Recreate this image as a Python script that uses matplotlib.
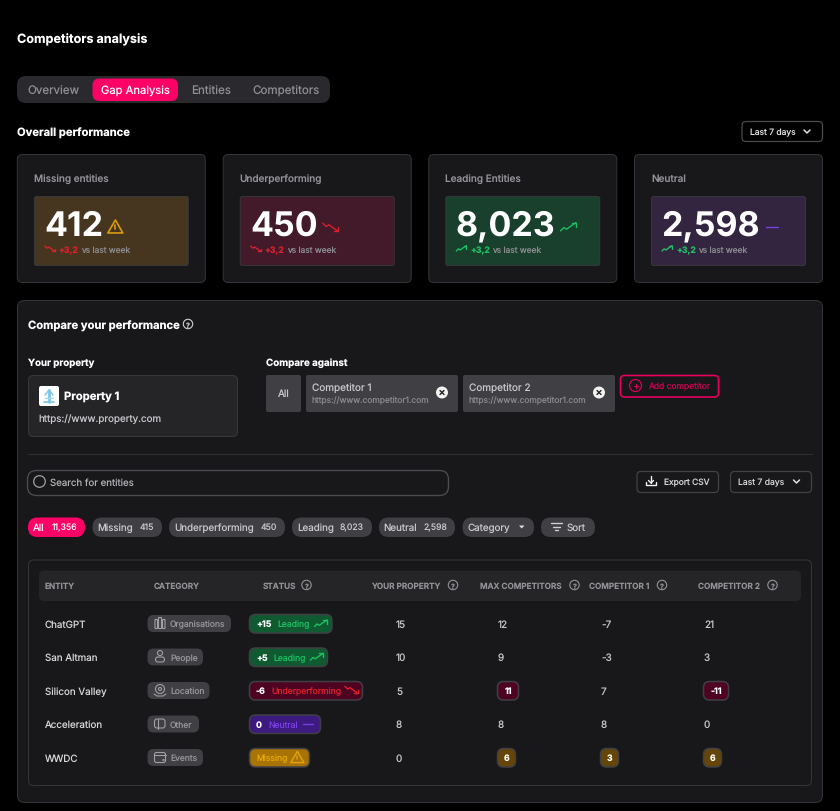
import math
import matplotlib
matplotlib.use("Agg")
import matplotlib.pyplot as plt
from matplotlib.patches import FancyBboxPatch, Circle, Polygon
from matplotlib.font_manager import FontProperties

FAMILY = ['Inter', 'DejaVu Sans']
plt.rcParams['font.family'] = FAMILY
plt.rcParams['text.hinting'] = 'no_hinting'
plt.rcParams['text.hinting_factor'] = 1

# ---- data ----
PAGE_TITLE = "Competitors analysis"
TABS = ["Overview", "Gap Analysis", "Entities", "Competitors"]
KPI_TITLES = ["Missing entities", "Underperforming", "Leading Entities", "Neutral"]
KPI_VALUES = ["412", "450", "8,023", "2,598"]
KPI_DELTA = "+3,2"
COMPETITORS = ["Competitor 1", "Competitor 2"]
FILTER_NAMES = ["All", "Missing", "Underperforming", "Leading", "Neutral"]
FILTER_COUNTS = ["11,356", "415", "450", "8,023", "2,598"]
ENTITIES = ["ChatGPT", "San Altman", "Silicon Valley", "Acceleration", "WWDC"]
CATEGORIES = ["Organisations", "People", "Location", "Other", "Events"]
STATUS = ["Leading", "Leading", "Underperforming", "Neutral", "Missing"]
STATUS_DELTA = ["+15", "+5", "-6", "0", ""]
YOUR_PROPERTY = [15, 10, 5, 8, 0]
MAX_COMPETITORS = [12, 9, 11, 8, 6]
COMPETITOR_1 = [-7, -3, 7, 8, 3]
COMPETITOR_2 = [21, 3, -11, 0, 6]
HEADERS = ["ENTITY", "CATEGORY", "STATUS", "YOUR PROPERTY", "MAX COMPETITORS", "COMPETITOR 1", "COMPETITOR 2"]

# ---- palette ----
BG = "#000000"; PANEL = "#18181b"; EDGE = "#333338"; RAISED = "#252528"
CHIP = "#3f3f44"; PINK = "#ff0066"; GREY = "#929297"; TXT = "#d6d6d9"
GREEN = "#1fbf63"; RED = "#d8222c"; AMBER = "#e0a010"; VIOLET = "#7a3fe0"
DARK_RED = "#4e0420"; DARK_AMBER = "#664608"

fig = plt.figure(figsize=(8.4, 8.12), dpi=100, facecolor=BG)
ax = fig.add_axes([0, 0, 1, 1])
# shapes land one pixel lower than their nominal coordinate; text compensates below
ax.set_xlim(0, 840); ax.set_ylim(811, -1); ax.axis("off")
PX = 0.72
RENDERER = fig.canvas.get_renderer()


def box(x0, y0, x1, y1, r=4, fc="none", ec="none", lw=0.75, z=1):
    if ec != "none":
        x0, y0, x1, y1 = x0 + .5, y0 + .5, x1 - .5, y1 - .5
    p = FancyBboxPatch((x0 + r, y0 + r), x1 - x0 - 2 * r, y1 - y0 - 2 * r,
                       boxstyle=f"round,pad={r},rounding_size={r}",
                       fc=fc, ec=ec, lw=lw, zorder=z)
    ax.add_patch(p)


def txt(x, y, s, size=10, color=TXT, weight="normal", ha="left", z=5):
    fp = FontProperties(family=FAMILY, size=size * PX, weight=weight)
    _, h, d = RENDERER.get_text_width_height_descent(s, fp, False)
    # keep baselines on one pixel row whatever the ink extent of the string
    yb = round(y + 0.36 * size) - d + math.trunc(h) - math.floor(h - d) - 1
    return ax.text(x, yb, s, fontproperties=fp, color=color, ha=ha, va="baseline", zorder=z)


def line(xs, ys, color, lw=1.0, z=5):
    ax.plot(xs, ys, color=color, lw=lw, zorder=z, solid_capstyle="round", solid_joinstyle="round")


def trend_up(x, y, s=1.0, color=GREEN, lw=1.0):
    line([x, x + 3 * s, x + 5.5 * s, x + 9 * s, x + 14 * s],
         [y + 3.5 * s, y + .5 * s, y + 2 * s, y - .5 * s, y - 4 * s], color, lw)
    line([x + 10 * s, x + 14 * s, x + 14 * s], [y - 4 * s, y - 4 * s, y], color, lw)


def trend_down(x, y, s=1.0, color=RED, lw=1.0):
    line([x, x + 3 * s, x + 5.5 * s, x + 9 * s, x + 14 * s],
         [y - 3.5 * s, y - .5 * s, y - 2 * s, y + .5 * s, y + 4 * s], color, lw)
    line([x + 10 * s, x + 14 * s, x + 14 * s], [y + 4 * s, y + 4 * s, y], color, lw)


def warn(cx, cy, w=15, color=AMBER, lw=1.2):
    h = w * 0.86
    ax.add_patch(Polygon([[cx, cy - h / 2], [cx + w / 2, cy + h / 2], [cx - w / 2, cy + h / 2]],
                         closed=True, fc="none", ec=color, lw=lw, joinstyle="round", zorder=5))
    line([cx, cx], [cy - h * .12, cy + h * .16], color, lw)
    line([cx, cx], [cy + h * .32, cy + h * .33], color, lw)


def chevron(cx, cy, color="#e0e0e0"):
    line([cx - 3, cx, cx + 3], [cy - 1.5, cy + 1.5, cy - 1.5], color, 1.1)


def helpicon(cx, cy, r=4.7, color=GREY):
    ax.add_patch(Circle((cx, cy - 1), r, fc="none", ec=color, lw=0.8, zorder=5))
    txt(cx, cy, "?", r * 1.5, color, "bold", "center")


# ---- header ----
txt(17, 38, PAGE_TITLE, 12.6, "#ffffff", "bold")
box(17, 76, 330, 103, 9, fc="#2a2a2e")
box(92.5, 78.5, 178, 101, 7, fc=PINK, z=2)
TAB_SIZE = [11.6, 11.2, 11.6, 11.6]
for name, cx, sz in zip(TABS, [53, 135, 211.5, 286], TAB_SIZE):
    txt(cx, 90, name, sz, "#ffffff" if name == "Gap Analysis" else "#8e8e93", "normal", "center")

txt(17, 132, "Overall performance", 11.2, "#ffffff", "bold")
box(741.5, 121, 823, 142, 4, ec="#4a4a4f", lw=0.9)
txt(750, 131.5, "Last 7 days", 8.5, "#dcdcdc")
chevron(807, 131.5)

# ---- KPI cards ----
CARD_X = [16.8, 222.7, 428.3, 634]
CARD_FILL = ["#463620", "#421a2a", "#19402c", "#33243f"]
for i, (cx, title, val) in enumerate(zip(CARD_X, KPI_TITLES, KPI_VALUES)):
    box(cx, 154, cx + 189, 283, 5, fc=PANEL, ec=EDGE)
    box(cx + 17, 196, cx + 172, 266, 2, fc=CARD_FILL[i], ec="#3a3a3e", lw=0.6, z=2)
    txt(cx + 17, 178, title, 10, GREY, "medium")
    t = txt(cx + 27.5, 224, val, 34, "#ffffff", "bold")
    fig.canvas.draw()
    right = ax.transData.inverted().transform(t.get_window_extent().get_points())[1, 0]
    if i == 0:
        warn(right + 12, 226.5, 15, "#d99a10")
    elif i == 1:
        trend_down(right + 5, 227, 1.1, RED)
    elif i == 2:
        trend_up(right + 5, 227, 1.1, GREEN)
    else:
        line([right + 6, right + 18], [227, 227], VIOLET, 1.0)
    if i < 2:
        trend_down(cx + 28, 248.5, 0.72, RED)
        c = RED
    else:
        trend_up(cx + 28, 248.5, 0.72, GREEN)
        c = GREEN
    txt(cx + 42, 249.5, KPI_DELTA, 8.7, c, "bold")
    txt(cx + 64, 249.5, "vs last week", 8.4, "#8a8a8f")

# ---- compare panel ----
box(17, 300, 823, 803, 7, fc=PANEL, ec=EDGE)
txt(28, 325, "Compare your performance", 11.2, "#ffffff", "bold")
helpicon(188, 325, 4.7, "#cfcfcf")

txt(28, 362.4, "Your property", 9.7, "#ffffff", "bold")
box(28, 375, 238, 437, 5, fc=RAISED, ec="#38383c", z=2)
box(39, 386, 59, 406, 2, fc="#ffffff", z=3)
line([49, 49], [390, 402], "#7cc4e8", 2.0, z=6)
line([45, 49, 53], [395, 390, 395], "#7cc4e8", 1.0, z=6)
line([44, 54], [402, 402], "#7cc4e8", 1.2, z=6)
line([45, 53], [398, 398], "#a7d8f0", 1.0, z=6)
txt(64, 396, "Property 1", 11.2, "#ffffff", "bold")
txt(38.5, 418.5, "https://www.property.com", 9.85, "#c8c8cc")

txt(266, 362.4, "Compare against", 9.8, "#ffffff", "bold")
box(266, 375, 301, 412, 2, fc=CHIP, z=2)
txt(283.5, 393, "All", 10, "#c8c8cc", "normal", "center")
for name, x0 in zip(COMPETITORS, [306, 463]):
    box(x0, 375, x0 + 152, 412, 2, fc=CHIP, z=2)
    txt(x0 + 6, 387, name, 10, "#c8c8cc")
    txt(x0 + 6, 400, "https://www.competitor1.com", 8.4, "#85858a")
    ccx, ccy = x0 + 136, 392.5
    ax.add_patch(Circle((ccx, ccy), 6, fc="#f2f2f2", ec="none", zorder=5))
    line([ccx - 2, ccx + 2], [ccy - 2, ccy + 2], "#222222", 1.0, z=6)
    line([ccx - 2, ccx + 2], [ccy + 2, ccy - 2], "#222222", 1.0, z=6)

box(620, 375, 719, 397.5, 4, ec="#e6005c", lw=1.2)
ax.add_patch(Circle((635.5, 385.5), 6, fc="none", ec="#d80058", lw=0.9, zorder=5))
line([633.5, 637.5], [385.5, 385.5], "#d80058", 0.9)
line([635.5, 635.5], [383.5, 387.5], "#d80058", 0.9)
txt(648, 386, "Add competitor", 8.5, "#c4004f")

line([28, 812], [453.7, 453.7], "#2e2e32", 0.8)

# search and actions
box(27, 470, 449, 496, 9, ec="#4a4a4f", lw=1.0)
ax.add_patch(Circle((39.5, 481.5), 5.8, fc="none", ec="#a0a0a4", lw=0.9, zorder=5))
txt(50.5, 483, "Search for entities", 9.7, "#b0b0b4")

box(636.5, 471, 719, 493, 4, ec="#414146", lw=0.9)
line([646, 646, 656, 656], [481.5, 485, 485, 481.5], "#f0f0f0", 1.0)
line([651, 651], [476, 482.5], "#f0f0f0", 1.0)
line([648.5, 651, 653.5], [480.5, 483, 480.5], "#f0f0f0", 1.0)
txt(664, 482, "Export CSV", 8.4, "#d6d6d9")
box(730, 471, 812, 493, 4, ec="#414146", lw=0.9)
txt(738.5, 482, "Last 7 days", 8.6, "#d6d6d9")
chevron(796.5, 481.5)

# filters
FILTER_X = [(28, 85, 33, 52), (92.5, 162, 97, 140), (169, 285, 174, 261),
            (292, 372, 297, 340), (379, 455, 383.5, 424)]
for i, (name, cnt) in enumerate(zip(FILTER_NAMES, FILTER_COUNTS)):
    x0, x1, xa, xb = FILTER_X[i]
    box(x0, 517.5, x1, 537, 9.5, fc=PINK if i == 0 else CHIP, z=2)
    txt(xa, 527.2, name, 9.8, "#ffffff" if i == 0 else "#c8c8cc")
    txt(xb, 527.2, cnt, 8.7, "#f5f5f5" if i == 0 else "#c8c8cc")
box(462.5, 517.5, 534, 537, 9.5, fc=CHIP, z=2)
txt(468, 527.2, "Category", 9.8, "#c8c8cc")
ax.add_patch(Polygon([[519, 525.5], [524.5, 525.5], [521.7, 528.5]], closed=True, fc="#dddddd", ec="none", zorder=5))
box(541, 517.5, 595, 537, 9.5, fc=CHIP, z=2)
line([550.5, 562], [523, 523], "#d0d0d0", 1.0)
line([552.5, 560], [526.5, 526.5], "#d0d0d0", 1.0)
line([554.5, 558], [530, 530], "#d0d0d0", 1.0)
txt(566.5, 527.2, "Sort", 9.8, "#c8c8cc")

# ---- table ----
box(28, 559.5, 812, 786, 5, fc=PANEL, ec=EDGE)
box(39, 570.5, 801, 601, 5, fc=RAISED, z=2)
HEAD_X = [45, 154, 262.5, 371.5, 480, 589, 698]
HELP_X = [None, None, 306.5, 453, 574.5, 662, 772.5]
for name, hx, qx in zip(HEADERS, HEAD_X, HELP_X):
    txt(hx, 586, name, 8.2, GREY, "semibold")
    if qx:
        helpicon(qx, 586, 4.7)

ROW_Y = [624, 657.5, 691, 724.5, 758]
CAT_END = [231, 203, 209.5, 199, 203]
STATUS_END = [332.5, 328, 363, 321, 310]
LABEL_X = [277, 273, 271, 268, 256]
STATUS_STYLE = {"Leading": ("#0f5a30", GREEN), "Underperforming": ("#4e0420", "#e0202c"),
                "Neutral": ("#3d1a80", VIOLET), "Missing": ("#a87408", "#e6a800")}
COL_X = [396, 498, 601, 704]


def cat_icon(kind, cx, cy):
    c = "#a0a0a5"
    if kind == "Organisations":
        box(cx - 5.5, cy - 4, cx - 2, cy + 6, 0.4, ec=c, lw=.8, z=5)
        box(cx - 2, cy - 6, cx + 2, cy + 6, 0.4, ec=c, lw=.8, z=5)
        box(cx + 2, cy - 4, cx + 5.5, cy + 6, 0.4, ec=c, lw=.8, z=5)
    elif kind == "People":
        ax.add_patch(Circle((cx, cy - 3.5), 2.5, fc="none", ec=c, lw=.8, zorder=5))
        box(cx - 5, cy, cx + 5, cy + 6, 2.5, ec=c, lw=.8, z=5)
    elif kind == "Location":
        ax.add_patch(Circle((cx, cy - 1), 4.5, fc="none", ec=c, lw=.8, zorder=5))
        ax.add_patch(Circle((cx, cy - 1), 1.5, fc="none", ec=c, lw=.8, zorder=5))
        line([cx - 6, cx - 3, cx + 3, cx + 6], [cy + 4, cy + 6, cy + 6, cy + 4], c, .8)
    elif kind == "Other":
        box(cx - 6, cy - 5, cx + 5.5, cy + 5, 2.5, ec=c, lw=.8, z=5)
        line([cx - 2.5, cx - 2.5], [cy - 5, cy + 5], c, .8)
    else:
        box(cx - 6, cy - 5, cx + 6, cy + 6, 2, ec=c, lw=.8, z=5)
        line([cx - 6, cx + 6], [cy - 2, cy - 2], c, .8)
        line([cx + 2.5, cx + 3.5], [cy + 2.5, cy + 2.5], c, 1.2)


def badge(x0, x1, y, fc, value):
    box(x0, y - 10, x1, y + 9.5, 6, fc=fc, ec="#3f3f44", lw=1.1, z=2)
    txt((x0 + x1) / 2, y, value, 8.7, "#ffffff", "bold", "center")


for i, y in enumerate(ROW_Y):
    txt(45, y, ENTITIES[i], 9.8, "#d6d6d9")
    # category
    box(147.5, y - 9, CAT_END[i], y + 8, 6, fc=CHIP, z=2)
    cat_icon(CATEGORIES[i], 160, y - 1)
    txt(170, y, CATEGORIES[i], 8.5, GREY)
    # status
    kind = STATUS[i]
    fc, col = STATUS_STYLE[kind]
    box(249, y - 10, STATUS_END[i], y + 9.5, 6, fc=fc, ec="#3f3f44", lw=1.1, z=2)
    if STATUS_DELTA[i]:
        txt(256, y, STATUS_DELTA[i], 8.8, "#ffffff", "bold")
    lab = txt(LABEL_X[i], y, kind, 8.6, col)
    fig.canvas.draw()
    right = ax.transData.inverted().transform(lab.get_window_extent().get_points())[1, 0]
    if kind == "Leading":
        trend_up(right + 5, y - .5, 0.9, GREEN)
    elif kind == "Underperforming":
        trend_down(right + 4, y - 1.5, 0.9, "#e0202c")
    elif kind == "Neutral":
        line([right + 5, right + 15.5], [y - 1, y - 1], VIOLET, 1.0)
    else:
        warn(right + 10, y - 1, 13, AMBER, 1.1)
    # values
    txt(COL_X[0], y, str(YOUR_PROPERTY[i]), 10, "#c8c8cc")
    for cx, series in zip(COL_X[1:], [MAX_COMPETITORS, COMPETITOR_1, COMPETITOR_2]):
        v = series[i]
        if kind == "Missing":
            badge(cx - 1, cx + 18, y, DARK_AMBER, str(v))
        elif kind == "Underperforming" and abs(v) == abs(MAX_COMPETITORS[i]):
            badge(cx - 1, cx + (21 if v > 0 else 25), y, DARK_RED, str(v))
        else:
            txt(cx, y, str(v), 10, "#c8c8cc")

fig.savefig("out.png", dpi=100, facecolor=BG)
